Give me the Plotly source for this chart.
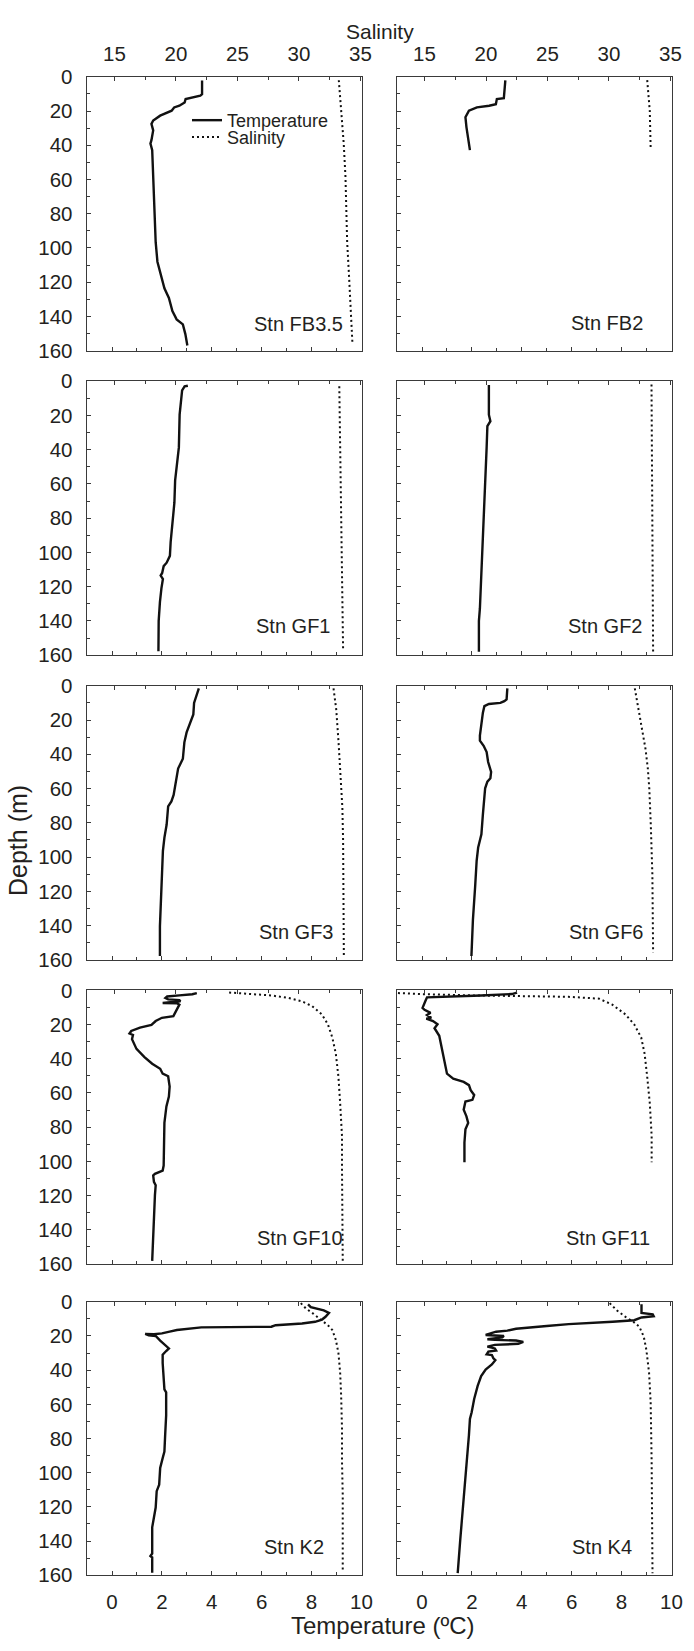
import plotly.graph_objects as go

# ---------------- data ----------------
stations = ["Stn FB3.5", "Stn FB2", "Stn GF1", "Stn GF2", "Stn GF3",
            "Stn GF6", "Stn GF10", "Stn GF11", "Stn K2", "Stn K4"]

temp_ticks = [0, 2, 4, 6, 8, 10]
sal_ticks = [15, 20, 25, 30, 35]
depth_ticks = [0, 20, 40, 60, 80, 100, 120, 140, 160]

# Stn FB3.5
fb35_t_depth = [2.1, 10.2, 11, 13, 15, 16.9, 17.9, 19.8, 22.7, 25.5, 27.5, 31.3, 37, 39, 42.8,
                58.2, 77.4, 96.6, 108, 115.8, 123.5, 129.2, 136.9, 141.7, 144.6, 150.3, 157]
fb35_temp = [3.61, 3.61, 3.54, 2.95, 2.91, 2.70, 2.49, 2.39, 1.93, 1.65, 1.58, 1.65, 1.58, 1.54, 1.61,
             1.65, 1.72, 1.75, 1.82, 1.97, 2.10, 2.28, 2.42, 2.59, 2.84, 2.94, 3.02]
fb35_s_depth = [2, 19.8, 39, 58, 96.6, 116, 135, 156]
fb35_sal = [33.24, 33.43, 33.64, 33.78, 33.92, 34.07, 34.2, 34.35]

# Stn FB2
fb2_t_depth = [2.1, 10.2, 12.5, 13, 16, 16.9, 17.9, 19.8, 23.6, 29.4, 35.1, 42.8]
fb2_temp = [3.34, 3.28, 3.28, 3.0, 2.96, 2.69, 2.20, 1.88, 1.74, 1.78, 1.85, 1.92]
fb2_s_depth = [2, 20, 41.9]
fb2_sal = [33.11, 33.32, 33.39]

# Stn GF1
gf1_t_depth = [2.7, 3.1, 5.4, 19.6, 38.7, 50, 58, 71, 83, 94, 102, 106, 108, 112, 113.5,
               115.5, 121, 129, 140, 157.7]
gf1_temp = [3.04, 2.91, 2.81, 2.71, 2.68, 2.59, 2.53, 2.50, 2.41, 2.35, 2.32, 2.19, 2.07, 2.01, 1.95,
            2.04, 1.98, 1.92, 1.87, 1.86]
gf1_s_depth = [3, 80, 157]
gf1_sal = [33.28, 33.45, 33.59]

# Stn GF2
gf2_t_depth = [2.3, 19.6, 23.4, 26.3, 38.7, 59.8, 81, 102, 121, 132.7, 140, 158]
gf2_temp = [2.68, 2.68, 2.74, 2.62, 2.59, 2.53, 2.47, 2.43, 2.37, 2.32, 2.28, 2.28]
gf2_s_depth = [2, 80, 158]
gf2_sal = [33.46, 33.53, 33.59]

# Stn GF3
gf3_t_depth = [1.5, 6.1, 10, 16.7, 21.5, 27.2, 33, 42.6, 48.3, 56, 63.7, 67.5, 70.4, 81,
               88.6, 96.3, 109.7, 125, 140.4, 157.7]
gf3_temp = [3.48, 3.39, 3.29, 3.26, 3.14, 2.99, 2.90, 2.84, 2.65, 2.56, 2.47, 2.38, 2.25, 2.19,
            2.10, 2.04, 2.01, 1.95, 1.92, 1.92]
gf3_s_depth = [1.5, 13.8, 33, 52, 71, 90.5, 110, 157.7]
gf3_sal = [32.81, 33.03, 33.22, 33.40, 33.53, 33.59, 33.59, 33.65]

# Stn GF6
gf6_t_depth = [1.5, 8, 9, 10, 10.6, 11.9, 15.7, 21.5, 29, 32, 35, 38.7, 44.5, 50.3, 54, 56,
               59.8, 75, 86.7, 94.4, 102, 117, 136.6, 157.7]
gf6_temp = [3.42, 3.39, 3.30, 3.14, 2.68, 2.50, 2.44, 2.38, 2.32, 2.32, 2.47, 2.59, 2.65, 2.77,
            2.74, 2.62, 2.53, 2.44, 2.38, 2.25, 2.19, 2.13, 2.04, 1.98]
gf6_s_depth = [1.5, 13.8, 27, 36.8, 48.3, 60, 81, 110, 155.7]
gf6_sal = [32.10, 32.41, 32.72, 32.97, 33.16, 33.28, 33.40, 33.53, 33.59]

# Stn GF10
gf10_t_depth = [1.5, 2.2, 2.9, 3.5, 4.4, 5.2, 5.6, 6.3, 7.3, 7.5, 8.3, 11.2, 15, 16, 17.9,
                20.2, 21.7, 23.7, 25.2, 26, 28.5, 34.2, 39, 42.9, 45.8, 48.7, 50.2, 56.3,
                62.1, 67.9, 77.5, 102.5, 105.4, 107.3, 108.3, 112, 114, 119.8, 135.2,
                146.7, 156.3, 158.3]
gf10_temp = [3.40, 3.22, 2.70, 2.21, 2.14, 2.25, 2.70, 2.74, 2.03, 2.60, 2.70, 2.60, 2.46, 2.0,
             1.75, 1.58, 1.12, 0.77, 0.70, 0.84, 0.80, 0.98, 1.30, 1.61, 1.93, 2.03, 2.25, 2.31,
             2.28, 2.18, 2.10, 2.07, 2.03, 1.72, 1.65, 1.68, 1.75, 1.72, 1.68,
             1.65, 1.61, 1.61]
gf10_s_depth = [1.2, 1.7, 2.9, 4.4, 6.3, 9.2, 14, 19.8, 27.5, 37.1, 50.6, 66, 85.2, 104.4, 158.3]
gf10_sal = [24.32, 25.60, 27.74, 29.15, 30.23, 31.07, 31.86, 32.35, 32.71, 33.0, 33.21, 33.35,
            33.5, 33.5, 33.56]

# Stn GF11
gf11_t_depth = [1.2, 2.1, 2.9, 3.5, 4, 6.3, 8.3, 10.2, 11.3, 13.1, 14.4, 16, 16.5, 17.9, 19.8,
                22.1, 26.5, 31.3, 39, 42.9, 48.7, 51.6, 53.5, 55.4, 58.3, 61.2, 64, 65,
                69.8, 73.7, 77.5, 81.3, 89, 100.6]
gf11_temp = [3.81, 3.60, 2.37, 0.62, 0.20, 0.13, 0.06, 0.02, 0.10, 0.34, 0.20, 0.37, 0.17, 0.44,
             0.62, 0.50, 0.69, 0.76, 0.86, 0.93, 1.0, 1.25, 1.67, 1.88, 1.95, 2.09, 2.02, 1.74,
             1.67, 1.78, 1.85, 1.74, 1.70, 1.70]
gf11_s_depth = [1.5, 2.1, 2.9, 3.3, 3.7, 4.8, 8.3, 14, 19.8, 27.5, 37.1, 50.6, 66, 85.2, 100.6]
gf11_sal = [12.84, 14.63, 18.89, 23.15, 26.71, 29.2, 30.27, 31.34, 32.05, 32.62, 32.90, 33.11,
            33.32, 33.47, 33.47]

# Stn K2
k2_t_depth = [1.5, 3.1, 5, 6.5, 8.8, 10.4, 11.7, 12.7, 13.7, 14.6, 15, 15.8, 16.5, 17.5, 18.5,
              19, 18.8, 19.6, 20, 22.7, 25, 27.3, 28.8, 31, 35.8, 51.2, 53, 66.5, 78, 87.7,
              91.5, 97.3, 107, 110.8, 120.4, 126.1, 132, 147.3, 148.8, 149.6, 158.5]
k2_temp = [7.86, 7.97, 8.49, 8.70, 8.56, 8.42, 8.14, 7.62, 6.56, 6.39, 3.58, 2.88, 2.60, 2.31,
           2.0, 1.68, 1.33, 1.47, 1.75, 1.93, 2.10, 2.28, 2.17, 2.03, 2.03, 2.10, 2.17, 2.17,
           2.13, 2.10, 2.03, 1.93, 1.89, 1.79, 1.75, 1.68, 1.61, 1.61, 1.54, 1.61, 1.61]
k2_s_depth = [0.8, 4, 6.9, 10.8, 13.7, 16.5, 22.3, 30, 41.5, 55, 74.2, 93.5, 112.7, 157]
k2_sal = [30.15, 30.58, 31.15, 31.79, 32.35, 32.71, 33.0, 33.21, 33.35, 33.43, 33.5, 33.5,
          33.56, 33.56]

# Stn K4
k4_t_depth = [1.5, 6.5, 7.3, 8.5, 9.2, 10.8, 11.7, 12.3, 13.1, 14.2, 15, 15.8, 16.9, 17.5, 19.4,
              20, 20.8, 21.9, 22.3, 22.7, 23.5, 24.6, 25.2, 26.2, 27.3, 28.5, 29.2, 30.8,
              31.2, 33.1, 34.2, 36.7, 39.6, 43.5, 49.2, 56.9, 64.6, 68.5, 78, 89.6, 101.2,
              120.4, 139.6, 158.8]
k4_temp = [8.80, 8.80, 9.25, 9.29, 8.80, 8.51, 7.64, 6.58, 5.88, 5.0, 4.48, 3.77, 3.42, 2.97,
           2.55, 3.28, 3.22, 2.62, 2.92, 3.77, 4.06, 3.86, 2.92, 2.62, 2.92, 2.97, 2.66, 2.59,
           2.80, 2.86, 2.94, 2.80, 2.55, 2.37, 2.23, 2.09, 1.99, 1.92, 1.88, 1.81, 1.74,
           1.64, 1.53, 1.43]
k4_s_depth = [0.8, 5, 8.8, 11.7, 14.6, 20.4, 28.1, 41.5, 58.8, 93.5, 158.8]
k4_sal = [30.06, 30.63, 31.34, 31.98, 32.47, 32.83, 33.04, 33.26, 33.39, 33.47, 33.54]

profiles = [
    (fb35_t_depth, fb35_temp, fb35_s_depth, fb35_sal),
    (fb2_t_depth, fb2_temp, fb2_s_depth, fb2_sal),
    (gf1_t_depth, gf1_temp, gf1_s_depth, gf1_sal),
    (gf2_t_depth, gf2_temp, gf2_s_depth, gf2_sal),
    (gf3_t_depth, gf3_temp, gf3_s_depth, gf3_sal),
    (gf6_t_depth, gf6_temp, gf6_s_depth, gf6_sal),
    (gf10_t_depth, gf10_temp, gf10_s_depth, gf10_sal),
    (gf11_t_depth, gf11_temp, gf11_s_depth, gf11_sal),
    (k2_t_depth, k2_temp, k2_s_depth, k2_sal),
    (k4_t_depth, k4_temp, k4_s_depth, k4_sal),
]

# ---------------- layout geometry ----------------
W, H = 694, 1651
COLS = [(88, 368), (403, 683)]
ROWS = [(65.7, 343.5), (374.3, 652.3), (683.3, 961.3), (992.3, 1269.5), (1308, 1585.3)]
TEMP_RANGE = [-1.02, 10.03]
SAL_RANGE = [12.73, 35.14]
# station label positions (fraction of panel: right edge x, centre y)
LABEL_POS = [(0.939, 0.099), (0.902, 0.10), (0.889, 0.105), (0.896, 0.105), (0.903, 0.10),
             (0.902, 0.10), (0.936, 0.095), (0.925, 0.095), (0.868, 0.105), (0.862, 0.105)]

FONT = "Liberation Sans, Arial, Helvetica, sans-serif"
TXT = "#231f20"
LINE = "#3a3a3a"
TICKSIZE = 20.5

fig = go.Figure()
legend_common = dict(xanchor="left", yanchor="middle", bgcolor="rgba(0,0,0,0)",
                     font=dict(size=18, color=TXT), itemwidth=30, borderwidth=0)
layout = dict(
    width=W, height=H, margin=dict(l=0, r=0, t=0, b=0),
    paper_bgcolor="white", plot_bgcolor="white",
    font=dict(family=FONT, size=20, color=TXT),
    showlegend=True,
    legend=dict(x=190 / W, y=1 - 110 / H, **legend_common),
    legend2=dict(x=190 / W, y=1 - 127 / H, **legend_common),
)
annotations = []

for i, (tdep, temp, sdep, sal) in enumerate(profiles):
    r, c = divmod(i, 2)
    x0, x1 = COLS[c]
    y0, y1 = ROWS[r]
    tx = 2 * i + 1
    sx = 2 * i + 2
    yy = i + 1
    tname = "xaxis" if tx == 1 else f"xaxis{tx}"
    sname = f"xaxis{sx}"
    yname = "yaxis" if yy == 1 else f"yaxis{yy}"
    tref = "x" if tx == 1 else f"x{tx}"
    sref = f"x{sx}"
    yref = "y" if yy == 1 else f"y{yy}"

    layout[tname] = dict(
        domain=[x0 / W, x1 / W], anchor=yref, range=TEMP_RANGE,
        tickvals=temp_ticks, ticks="inside", ticklen=4, tickcolor=LINE,
        minor=dict(dtick=1, tick0=0, ticks="inside", ticklen=3, tickcolor=LINE),
        showline=True, linecolor=LINE, linewidth=1, showgrid=False, zeroline=False,
        showticklabels=(r == 4), ticklabelstandoff=8, ticklabeloverflow="allow",
        tickfont=dict(size=TICKSIZE, color=TXT),
    )
    layout[sname] = dict(
        overlaying=tref, side="top", anchor=yref, range=SAL_RANGE,
        tickvals=sal_ticks, ticks="inside", ticklen=4, tickcolor=LINE,
        minor=dict(dtick=2.5, tick0=15, ticks="inside", ticklen=3, tickcolor=LINE),
        showline=True, linecolor=LINE, linewidth=1, showgrid=False, zeroline=False,
        showticklabels=(r == 0), ticklabelstandoff=7, ticklabeloverflow="allow",
        tickfont=dict(size=TICKSIZE, color=TXT),
    )
    layout[yname] = dict(
        domain=[1 - y1 / H, 1 - y0 / H], anchor=tref, range=[160, 0],
        tickvals=depth_ticks, ticks="inside", ticklen=4, tickcolor=LINE,
        minor=dict(dtick=10, tick0=0, ticks="inside", ticklen=3, tickcolor=LINE),
        showline=True, mirror=True, linecolor=LINE, linewidth=1,
        showgrid=False, zeroline=False,
        showticklabels=(c == 0), ticklabelstandoff=9, ticklabeloverflow="allow",
        tickfont=dict(size=TICKSIZE, color=TXT),
    )

    fig.add_trace(go.Scatter(
        x=temp, y=tdep, xaxis=tref, yaxis=yref, mode="lines",
        line=dict(color="#111111", width=2.4), name="Temperature",
        showlegend=(i == 0), legend="legend",
    ))
    fig.add_trace(go.Scatter(
        x=sal, y=sdep, xaxis=sref, yaxis=yref, mode="lines",
        line=dict(color="#111111", width=2.0, dash="2px,3px"), name="Salinity",
        showlegend=(i == 0), legend="legend2",
    ))

    lx, ly = LABEL_POS[i]
    annotations.append(dict(
        text=stations[i], xref=f"{tref} domain", yref=f"{yref} domain",
        x=lx, y=ly, xanchor="right", yanchor="middle", showarrow=False,
        font=dict(size=20, color=TXT),
    ))

annotations += [
    dict(text="Salinity", xref="paper", yref="paper", x=386 / W, y=1 - 20 / H,
         xanchor="center", yanchor="middle", showarrow=False, font=dict(size=21, color=TXT)),
    dict(text="Temperature (ºC)", xref="paper", yref="paper", x=389 / W, y=1 - 1636 / H,
         xanchor="center", yanchor="middle", showarrow=False, font=dict(size=24, color=TXT)),
    dict(text="Depth (m)", xref="paper", yref="paper", x=19 / W, y=1 - 840 / H,
         xanchor="center", yanchor="middle", textangle=-90, showarrow=False,
         font=dict(size=25, color=TXT)),
]
layout["annotations"] = annotations
fig.update_layout(**layout)

# remove the default page margin so the figure fills the 694x1651 window exactly
fig.write_html(
    "out.html",
    config={"displayModeBar": False},
    post_script="document.body.style.margin='0px';document.body.style.overflow='hidden';",
)
